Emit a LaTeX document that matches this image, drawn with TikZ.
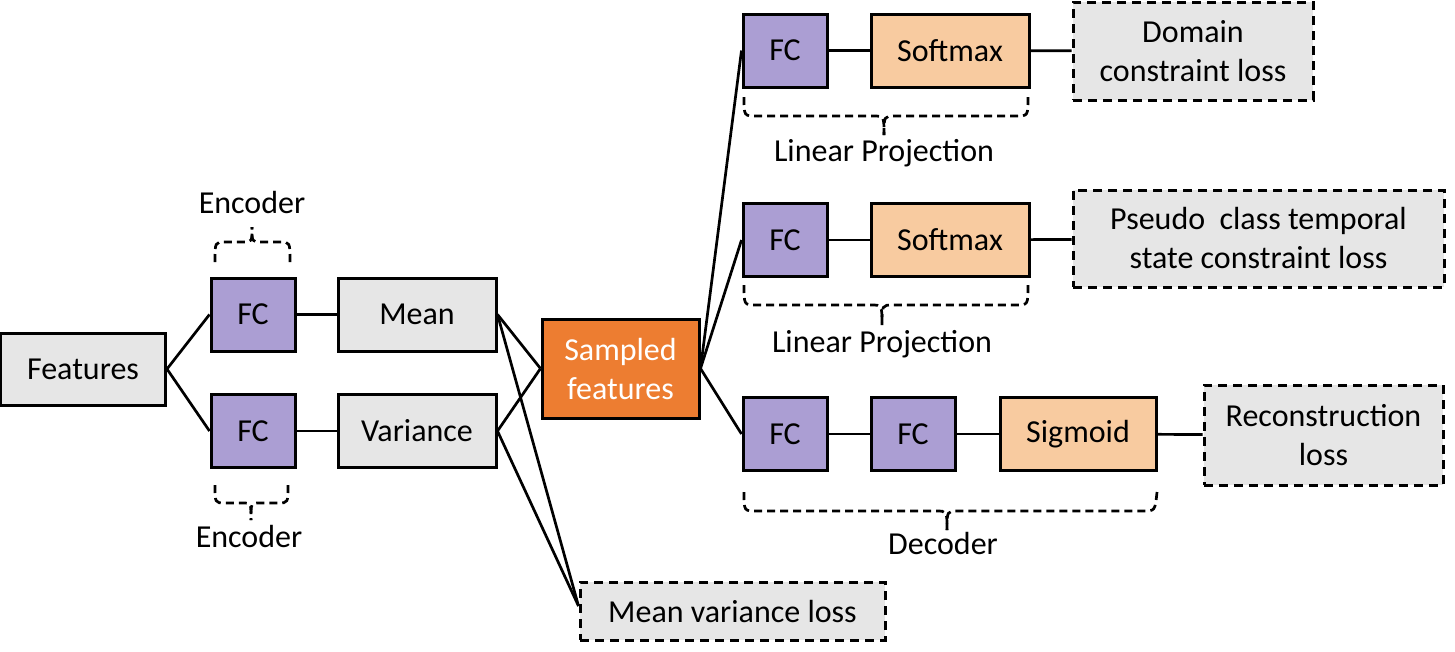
\documentclass[tikz,border=0pt]{standalone}
\usepackage{fontspec}
\setmainfont{Carlito}
\definecolor{fcpurple}{HTML}{AB9ED3}
\definecolor{boxgray}{HTML}{E6E6E6}
\definecolor{sorange}{HTML}{ED7D31}
\definecolor{lorange}{HTML}{F8CBA0}
\begin{document}
\begin{tikzpicture}[x=1pt,y=-1pt,
  every node/.style={font=\fontsize{32}{39}\selectfont, inner sep=0pt, align=center},
  blk/.style={draw=black, line width=3pt, rectangle},
  fcbox/.style={blk, fill=fcpurple, minimum width=84pt, minimum height=73pt},
  graybox/.style={blk, fill=boxgray, minimum height=73pt},
  smbox/.style={blk, fill=lorange, minimum width=158pt, minimum height=73pt},
  lossbox/.style={draw=black, line width=3pt, dash pattern=on 9pt off 6pt, fill=boxgray, rectangle},
  conn/.style={line width=2.7pt},
  bracelinestyle/.style={line width=2.7pt, dash pattern=on 8pt off 5pt}]
\useasboundingbox (0,0) rectangle (1455,651);

% left part
\node[graybox, minimum width=165pt, minimum height=72pt] (feat) at (83,369) {Features};
\node[fcbox] (fc1) at (253,314.5) {FC};
\node[fcbox] (fc2) at (253,431) {FC};
\node[graybox, minimum width=158pt] (mean) at (417,314.5) {Mean};
\node[graybox, minimum width=158pt] (var) at (417,431) {Variance};
\node[blk, fill=sorange, minimum width=157pt, minimum height=99pt, text=white] (samp) at (620.5,368.5) {Sampled\\features};
\node[lossbox, minimum width=305pt, minimum height=58pt] (mvl) at (732.5,611) {Mean variance loss};
\coordinate (mvlin) at ([yshift=5pt]mvl.west);

% top row
\node[fcbox] (fca) at (785,50.5) {FC};
\node[smbox] (sma) at (950,50.5) {Softmax};
\node[lossbox, minimum width=240pt, minimum height=98pt] (lossa) at (1193,51) {Domain\\constraint loss};

% middle row
\node[fcbox] (fcb) at (785,240) {FC};
\node[smbox] (smb) at (950,240) {Softmax};
\node[lossbox, minimum width=371pt, minimum height=97pt] (lossb) at (1258.5,238.5) {Pseudo\ \ class temporal\\state constraint loss};

% bottom row
\node[fcbox] (fcc) at (785,434) {FC};
\node[fcbox] (fcd) at (913,434) {FC};
\node[smbox, minimum width=156pt] (sig) at (1078,434) {Sigmoid};
\node[lossbox, minimum width=239pt, minimum height=100pt] (lossc) at (1323.5,435) {Reconstruction\\loss};

% connectors
\draw[conn] (feat.east) -- (fc1.west);
\draw[conn] (feat.east) -- (fc2.west);
\draw[conn] (fc1.east) -- (mean.west);
\draw[conn] (fc2.east) -- (var.west);
\draw[conn] (mean.east) -- (samp.west);
\draw[conn] (var.east) -- (samp.west);
\draw[conn] (mean.east) -- (mvlin);
\draw[conn] (var.east) -- (mvlin);
\draw[conn] (samp.east) -- (fca.west);
\draw[conn] (samp.east) -- (fcb.west);
\draw[conn] (samp.east) -- (fcc.west);
\draw[conn] (fca) -- (sma);
\draw[conn] (sma) -- (lossa);
\draw[conn] (fcb) -- (smb);
\draw[conn] (smb) -- (lossb);
\draw[conn] (fcc) -- (fcd);
\draw[conn] (fcd) -- (sig);
\draw[conn] (sig) -- (lossc);

% braces: top encoder (pointing up)
\draw[bracelinestyle] (215,262) .. controls (215,242) .. (225,242) -- (243,242) .. controls (252,242) .. (252,227);
\draw[bracelinestyle] (290,262) .. controls (290,242) .. (280,242) -- (261,242) .. controls (252,242) .. (252,227);
\node (enc1) at (252,202) {Encoder};

% bottom encoder
\draw[bracelinestyle] (215,485) .. controls (215,503) .. (225,503) -- (243,503) .. controls (251,503) .. (251,520);
\draw[bracelinestyle] (288,485) .. controls (288,503) .. (278,503) -- (259,503) .. controls (251,503) .. (251,520);
\node (enc2) at (249,536) {Encoder};

% linear projection braces
\draw[bracelinestyle] (744,97) .. controls (744,116) .. (756,116) -- (873,116) .. controls (884,116) .. (884,135);
\draw[bracelinestyle] (1028,97) .. controls (1028,116) .. (1016,116) -- (895,116) .. controls (884,116) .. (884,135);
\node (lp1) at (884,153) {Linear Projection};

\draw[bracelinestyle] (744,285) .. controls (744,305) .. (756,305) -- (871,305) .. controls (882,305) .. (882,325);
\draw[bracelinestyle] (1028,285) .. controls (1028,305) .. (1016,305) -- (893,305) .. controls (882,305) .. (882,325);
\node (lp2) at (882,344) {Linear Projection};

% decoder brace
\draw[bracelinestyle] (744,492) .. controls (744,511) .. (756,511) -- (936,511) .. controls (947,511) .. (947,530);
\draw[bracelinestyle] (1157,492) .. controls (1155,511) .. (1143,511) -- (958,511) .. controls (947,511) .. (947,530);
\node (dec) at (943,543) {Decoder};
\end{tikzpicture}
\end{document}
